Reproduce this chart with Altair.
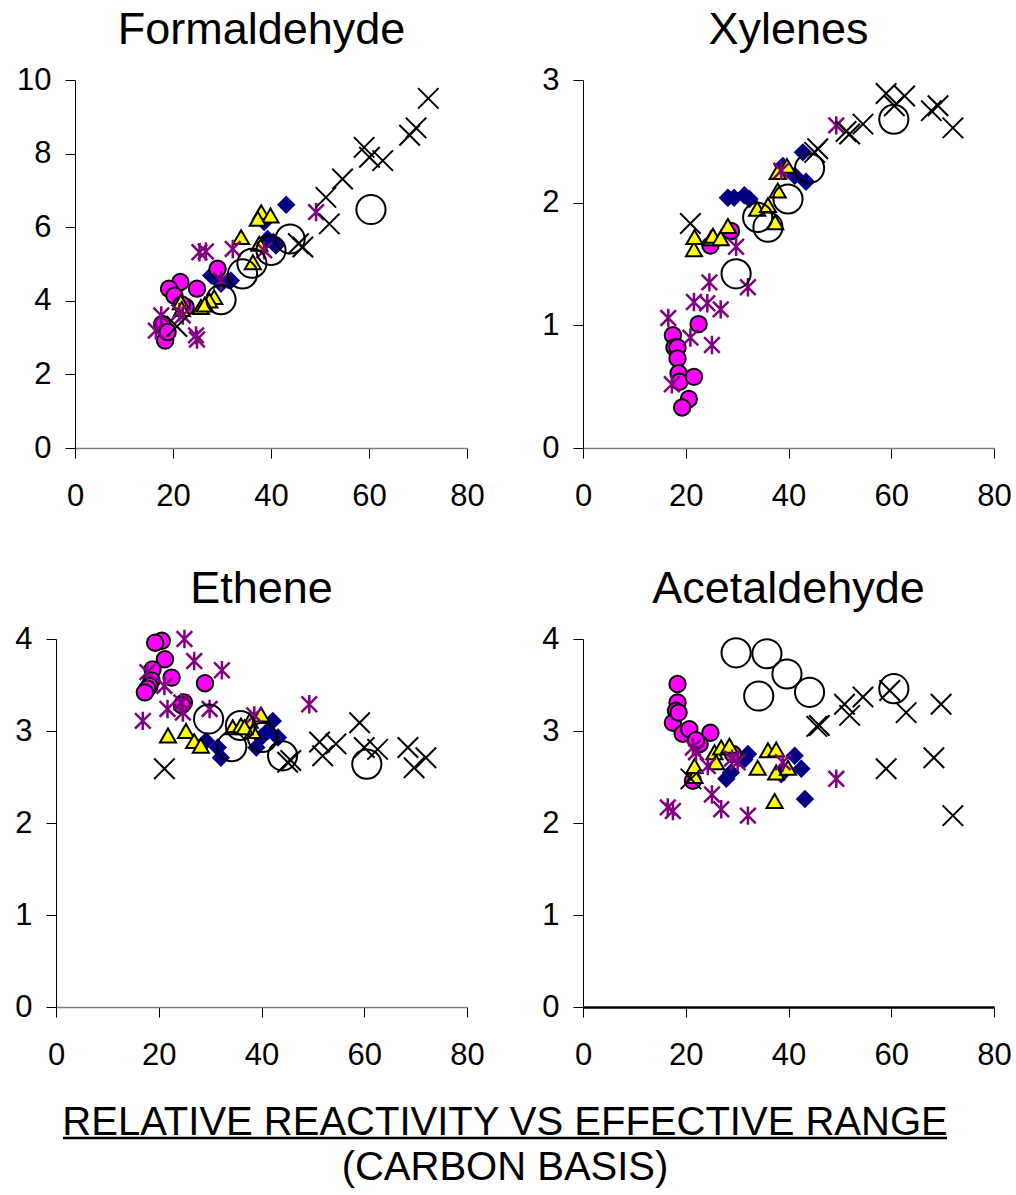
import altair as alt
import pandas as pd

FONT = "Liberation Sans"

# ---------------- data ----------------
X_TICKS = [0, 20, 40, 60, 80]

# Formaldehyde
FORM_DIA_X = [27.8, 29.8, 31.8, 38.6, 39.3, 41.0, 40.5, 43.1]
FORM_DIA_Y = [4.69, 4.46, 4.55, 6.14, 5.68, 5.50, 5.60, 6.61]
FORM_MAG_X = [29.1, 21.5, 19.2, 24.9, 20.3, 22.6, 18.6, 18.4, 17.8, 18.9, 21.8]
FORM_MAG_Y = [4.87, 4.51, 4.33, 4.33, 4.14, 3.83, 3.19, 2.92, 3.37, 3.15, 3.90]
FORM_TRI_X = [38.0, 39.9, 37.3, 33.9, 37.6, 36.3, 28.4, 27.4, 25.7, 21.6, 21.8, 26.5]
FORM_TRI_Y = [6.41, 6.32, 6.23, 5.73, 5.55, 5.05, 4.10, 4.01, 3.83, 3.96, 3.78, 3.90]
FORM_AST_X = [49.2, 38.6, 32.2, 25.4, 26.7, 29.8, 17.6, 16.5, 21.3, 22.0, 24.7, 24.9]
FORM_AST_Y = [6.41, 5.37, 5.41, 5.32, 5.34, 4.55, 3.60, 3.19, 3.69, 3.60, 3.06, 2.95]
FORM_OPEN_X = [29.8, 34.2, 36.1, 40.0, 43.9, 60.4]
FORM_OPEN_Y = [4.03, 4.73, 5.02, 5.37, 5.68, 6.48]
FORM_CROSS_X = [20.8, 45.6, 46.5, 51.2, 51.9, 54.6, 59.0, 60.1, 62.8, 68.3, 69.6, 72.1]
FORM_CROSS_Y = [3.30, 5.55, 5.46, 6.81, 6.09, 7.31, 8.17, 7.90, 7.81, 8.50, 8.70, 9.50]

# Xylenes
XYL_DIA_X = [28.2, 29.4, 31.4, 32.4, 38.9, 41.2, 42.8, 43.4]
XYL_DIA_Y = [2.04, 2.04, 2.06, 2.03, 2.30, 2.22, 2.41, 2.17]
XYL_MAG_X = [28.8, 24.8, 22.5, 17.5, 17.8, 18.4, 18.4, 18.6, 18.8, 21.6, 20.6, 19.3]
XYL_MAG_Y = [1.77, 1.65, 1.01, 0.92, 0.82, 0.82, 0.73, 0.61, 0.54, 0.58, 0.40, 0.33]
XYL_TRI_X = [21.6, 21.7, 24.9, 25.3, 26.8, 28.2, 33.9, 36.0, 37.4, 37.9, 37.9, 39.7]
XYL_TRI_Y = [1.62, 1.72, 1.71, 1.73, 1.71, 1.81, 1.95, 1.98, 1.84, 2.10, 2.25, 2.30]
XYL_AST_X = [16.6, 17.3, 20.9, 21.6, 24.2, 24.6, 25.1, 26.8, 29.8, 32.1, 38.6, 49.3]
XYL_AST_Y = [1.06, 0.52, 0.90, 1.19, 1.18, 1.35, 0.84, 1.13, 1.64, 1.31, 2.26, 2.63]
XYL_OPEN_X = [29.8, 34.0, 36.0, 39.9, 44.1, 60.5]
XYL_OPEN_Y = [1.42, 1.88, 1.80, 2.03, 2.28, 2.68]
XYL_CROSS_X = [20.9, 45.1, 45.7, 51.2, 51.9, 54.5, 59.0, 60.6, 62.6, 67.8, 69.1, 72.0]
XYL_CROSS_Y = [1.83, 2.41, 2.44, 2.58, 2.56, 2.64, 2.89, 2.79, 2.87, 2.75, 2.79, 2.61]

# Ethene
ETH_DIA_X = [29.2, 31.5, 32.1, 39.0, 39.9, 41.2, 42.2, 43.2]
ETH_DIA_Y = [2.89, 2.82, 2.71, 2.82, 2.93, 3.00, 3.11, 2.93]
ETH_MAG_X = [20.6, 19.3, 21.2, 18.8, 22.5, 18.6, 18.2, 17.8, 17.3, 29.0, 24.9, 24.5]
ETH_MAG_Y = [3.98, 3.96, 3.78, 3.67, 3.58, 3.55, 3.49, 3.46, 3.42, 3.52, 3.31, 3.28]
ETH_TRI_X = [21.8, 25.3, 26.9, 28.2, 34.4, 36.0, 37.7, 39.9, 38.3, 36.7]
ETH_TRI_Y = [2.95, 3.00, 2.89, 2.84, 3.04, 3.06, 3.11, 3.18, 3.00, 3.04]
ETH_AST_X = [25.0, 26.9, 32.3, 17.8, 21.1, 21.7, 24.7, 24.4, 29.9, 16.9, 49.3, 38.6]
ETH_AST_Y = [4.00, 3.76, 3.66, 3.64, 3.49, 3.24, 3.20, 3.31, 3.24, 3.11, 3.29, 3.17]
ETH_OPEN_X = [29.7, 34.2, 35.9, 40.2, 44.1, 60.5]
ETH_OPEN_Y = [3.13, 2.83, 3.06, 2.93, 2.73, 2.64]
ETH_CROSS_X = [21.1, 45.1, 45.7, 51.3, 51.9, 54.5, 59.1, 60.0, 62.6, 68.5, 69.7, 72.0]
ETH_CROSS_Y = [2.59, 2.66, 2.68, 2.88, 2.73, 2.86, 3.09, 2.82, 2.80, 2.82, 2.60, 2.71]

# Acetaldehyde
ACE_DIA_X = [27.9, 28.8, 31.4, 32.1, 38.6, 41.2, 42.5, 43.2]
ACE_DIA_Y = [2.48, 2.55, 2.69, 2.75, 2.53, 2.73, 2.59, 2.26]
ACE_MAG_X = [18.4, 18.4, 18.1, 17.5, 19.4, 20.7, 24.8, 22.7, 22.0, 29.2, 21.4, 18.6]
ACE_MAG_Y = [3.51, 3.31, 3.22, 3.09, 2.97, 3.02, 2.98, 2.86, 2.90, 2.75, 2.46, 3.20]
ACE_TRI_X = [21.7, 21.7, 25.6, 25.9, 26.9, 28.5, 34.0, 36.0, 37.6, 37.6, 39.9, 37.3]
ACE_TRI_Y = [2.51, 2.62, 2.77, 2.66, 2.82, 2.84, 2.60, 2.79, 2.80, 2.55, 2.60, 2.24]
ACE_AST_X = [16.5, 17.5, 21.4, 22.0, 24.3, 25.1, 26.9, 30.1, 32.1, 38.9, 49.3, 29.0]
ACE_AST_Y = [2.17, 2.13, 2.82, 2.77, 2.62, 2.31, 2.15, 2.66, 2.08, 2.66, 2.48, 2.70]
ACE_OPEN_X = [29.8, 34.2, 35.8, 39.7, 44.1, 60.5]
ACE_OPEN_Y = [3.85, 3.38, 3.84, 3.62, 3.42, 3.46]
ACE_CROSS_X = [21.0, 45.5, 46.0, 50.9, 51.9, 54.5, 59.0, 59.7, 62.9, 68.3, 69.7, 72.0]
ACE_CROSS_Y = [2.48, 3.05, 3.06, 3.29, 3.17, 3.37, 2.59, 3.44, 3.20, 2.71, 3.29, 2.08]

TITLES = ["Formaldehyde", "Xylenes", "Ethene", "Acetaldehyde"]
BOTTOM_TEXT = ["RELATIVE REACTIVITY VS EFFECTIVE RANGE", "(CARBON BASIS)"]

# ---------------- styles ----------------
CROSS_PATH = "M-1,-1L1,1M1,-1L-1,1"
AST_PATH = "M-0.85,-0.85L0.85,0.85M0.85,-0.85L-0.85,0.85M0,-1L0,1"

STYLES = {
    "dia": dict(shape="diamond", filled=True, color="#000080", size=340, strokeWidth=0, opacity=1),
    "mag": dict(shape="circle", filled=True, fill="#FF00FF", stroke="black", size=270, strokeWidth=2, opacity=1),
    "tri": dict(shape="triangle-up", filled=True, fill="#FFFF00", stroke="black", size=260, strokeWidth=2, opacity=1),
    "ast": dict(shape=AST_PATH, filled=False, color="#800080", size=340, strokeWidth=2.5, opacity=1),
    "open": dict(shape="circle", filled=False, color="black", size=850, strokeWidth=2, opacity=1),
    "cross": dict(shape=CROSS_PATH, filled=False, color="black", size=420, strokeWidth=2, opacity=1),
}
ORDER = ["dia", "mag", "tri", "ast", "open", "cross"]
PANEL_W = 411
PANEL_H = 368


def panel(title, series, ymax, ystep, inset=0, domain_color="#7f7f7f", domain_width=1.5):
    xaxis = alt.Axis(values=X_TICKS, grid=False, tickSize=10, tickColor="black", tickWidth=1,
                     domainColor=domain_color, domainWidth=domain_width, labelFont=FONT,
                     labelFontSize=31, labelColor="black", labelPadding=23, title=None,
                     labelFlush=False, labelOverlap=False)
    yvals = list(range(0, ymax + 1, ystep))
    yaxis = alt.Axis(values=yvals, grid=False, tickSize=10, tickColor="black", tickWidth=1,
                     domainColor="black", domainWidth=1, labelFont=FONT, labelFontSize=31,
                     labelColor="black", labelPadding=14, title=None, labelFlush=False,
                     labelOverlap=False, offset=-inset)
    layers = []
    for key in ORDER:
        xs, ys = series[key]
        df = pd.DataFrame({"x": xs, "y": ys})
        layers.append(
            alt.Chart(df).mark_point(**STYLES[key]).encode(
                x=alt.X("x:Q", scale=alt.Scale(domain=[0, 80], range=[inset, PANEL_W], nice=False, zero=False),
                        axis=xaxis),
                y=alt.Y("y:Q", scale=alt.Scale(domain=[0, ymax], nice=False), axis=yaxis),
            )
        )
    return alt.layer(*layers).properties(
        width=PANEL_W, height=PANEL_H,
        title=alt.TitleParams(title, font=FONT, fontSize=45, fontWeight="normal", color="black",
                              offset=11, anchor="middle"),
    )


p1 = panel(TITLES[0], {
    "dia": (FORM_DIA_X, FORM_DIA_Y), "mag": (FORM_MAG_X, FORM_MAG_Y), "tri": (FORM_TRI_X, FORM_TRI_Y),
    "ast": (FORM_AST_X, FORM_AST_Y), "open": (FORM_OPEN_X, FORM_OPEN_Y), "cross": (FORM_CROSS_X, FORM_CROSS_Y),
}, 10, 2, inset=19)
p2 = panel(TITLES[1], {
    "dia": (XYL_DIA_X, XYL_DIA_Y), "mag": (XYL_MAG_X, XYL_MAG_Y), "tri": (XYL_TRI_X, XYL_TRI_Y),
    "ast": (XYL_AST_X, XYL_AST_Y), "open": (XYL_OPEN_X, XYL_OPEN_Y), "cross": (XYL_CROSS_X, XYL_CROSS_Y),
}, 3, 1)
p3 = panel(TITLES[2], {
    "dia": (ETH_DIA_X, ETH_DIA_Y), "mag": (ETH_MAG_X, ETH_MAG_Y), "tri": (ETH_TRI_X, ETH_TRI_Y),
    "ast": (ETH_AST_X, ETH_AST_Y), "open": (ETH_OPEN_X, ETH_OPEN_Y), "cross": (ETH_CROSS_X, ETH_CROSS_Y),
}, 4, 1)
p4 = panel(TITLES[3], {
    "dia": (ACE_DIA_X, ACE_DIA_Y), "mag": (ACE_MAG_X, ACE_MAG_Y), "tri": (ACE_TRI_X, ACE_TRI_Y),
    "ast": (ACE_AST_X, ACE_AST_Y), "open": (ACE_OPEN_X, ACE_OPEN_Y), "cross": (ACE_CROSS_X, ACE_CROSS_Y),
}, 4, 1, domain_color="black", domain_width=2.5)

row1 = alt.hconcat(p1, p2, spacing=56)
row2 = alt.hconcat(p3, p4, spacing=56)
grid = alt.concat(row1, row2, columns=1, spacing=54)

txt_df = pd.DataFrame({"t": BOTTOM_TEXT, "row": [0, 1]})
bottom = alt.layer(
    alt.Chart(txt_df).transform_filter("datum.row == 0").mark_text(
        font=FONT, fontSize=40, align="center", baseline="alphabetic", color="black"
    ).encode(text="t:N", x=alt.value(449), y=alt.value(60)),
    alt.Chart(txt_df).transform_filter("datum.row == 1").mark_text(
        font=FONT, fontSize=40, align="center", baseline="alphabetic", color="black"
    ).encode(text="t:N", x=alt.value(449), y=alt.value(105)),
    alt.Chart(txt_df).transform_filter("datum.row == 0").mark_rule(color="black", strokeWidth=2.5).encode(
        x=alt.value(7), x2=alt.value(891), y=alt.value(63)
    ),
).properties(width=900, height=108)

chart = alt.concat(grid, bottom, columns=1, spacing=3).properties(
    padding={"left": 14, "top": 7, "right": 2, "bottom": 0},
    background="white",
).configure_view(stroke="transparent")

chart.save("out.html", embed_options={"renderer": "svg", "actions": False})
